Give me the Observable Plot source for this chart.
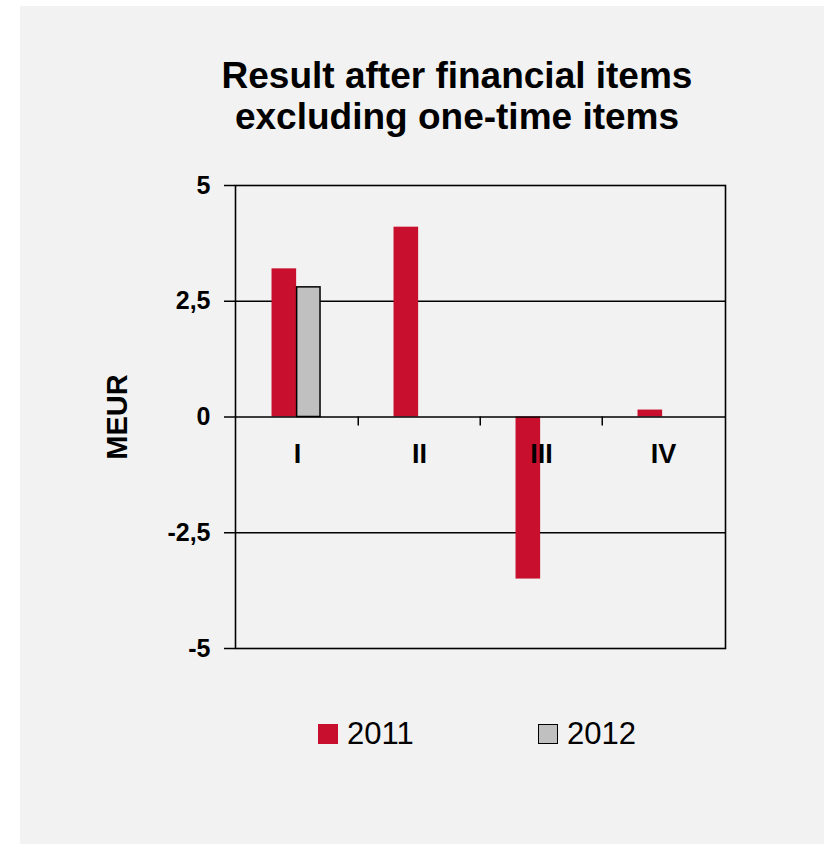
<!DOCTYPE html>
<html>
<head>
<meta charset="utf-8">
<script src="https://cdn.jsdelivr.net/npm/d3@7"></script>
<script src="https://cdn.jsdelivr.net/npm/@observablehq/plot@0.6"></script>
<style>
  html, body { margin: 0; padding: 0; background: #ffffff; }
  #panel {
    position: absolute; left: 20px; top: 6px; width: 804px; height: 838px;
    background: #f2f2f2; font-family: "Liberation Sans", Arial, sans-serif; color: #000;
  }
  #title {
    padding-top: 49px; padding-left: 70px; text-align: center;
    font-size: 37px; font-weight: bold; line-height: 41px;
  }
  #chart svg { display: block; }
  #legend {
    margin-top: 46px; height: 40px; line-height: 40px; padding-left: 298px;
    font-size: 31px; display: flex;
  }
  .item { width: 220px; display: flex; align-items: center; }
  .sw { width: 20px; height: 20px; box-sizing: border-box; margin-right: 9px; }
</style>
</head>
<body>
<div id="panel">
  <div id="title">Result after financial items<br>excluding one-time items</div>
  <div id="chart"></div>
  <div id="legend"></div>
</div>
<script>
const quarters = ["I", "II", "III", "IV"];
const values2011 = [3.2, 4.1, -3.5, 0.15];
const values2012 = [2.8, null, null, null];
const yTicks = [-5, -2.5, 0, 2.5, 5];
const seriesNames = ["2011", "2012"];
const yLabel = "MEUR";

const red = "#c8102e";
const grey = "#c0c0c0";

const d2011 = quarters.map((q, i) => ({q, v: values2011[i]})).filter(d => d.v != null);
const d2012 = quarters.map((q, i) => ({q, v: values2012[i]})).filter(d => d.v != null);

const W = 804, mL = 215, mR = 99;
const bw = (W - mL - mR) / quarters.length;
const fmt = d => String(d).replace(".", ",");

const chart = Plot.plot({
  width: W,
  height: 531,
  marginLeft: mL,
  marginRight: mR,
  marginTop: 48,
  marginBottom: 20,
  style: {background: "transparent", fontFamily: "'Liberation Sans', Arial, sans-serif", fontSize: "25px", fontWeight: "bold", color: "#000"},
  x: {domain: quarters, type: "band", paddingInner: 0, paddingOuter: 0, axis: null},
  y: {domain: [-5, 5], axis: null},
  marks: [
    Plot.ruleY(yTicks.filter(t => t !== 0 && Math.abs(t) !== 5), {stroke: "#000", strokeWidth: 1.3}),
    Plot.barY(d2011, {x: "q", y: "v", fill: red, insetLeft: bw * 0.29, insetRight: bw * 0.505}),
    Plot.barY(d2012, {x: "q", y: "v", fill: grey, stroke: "#000", strokeWidth: 1.5, insetLeft: bw * 0.495, insetRight: bw * 0.31}),
    Plot.ruleY([0], {stroke: "#000", strokeWidth: 1.6}),
    Plot.ruleX(quarters.slice(1), {x: d => d, y1: () => 0, y2: () => 0, dx: -bw / 2, insetBottom: -9, stroke: "#000", strokeWidth: 1.5}),
    Plot.text(quarters, {x: d => d, y: () => 0, dy: 37, text: d => d, fontSize: 27, fontWeight: "bold", fill: "#000"}),
    Plot.axisY({ticks: yTicks, tickSize: 11, tickPadding: 14, tickFormat: fmt, label: null, fontSize: 25, fontWeight: "bold", stroke: "#000", strokeWidth: 1.5}),
    Plot.text([yLabel], {frameAnchor: "left", dx: -118, rotate: -90, textAnchor: "middle", text: d => d, fontSize: 29, fontWeight: "bold", fill: "#000"}),
    Plot.frame({stroke: "#000", strokeWidth: 1.6})
  ]
});
document.getElementById("chart").appendChild(chart);

const legend = document.getElementById("legend");
const swatchStyles = [
  {background: red, border: "none"},
  {background: grey, border: "1.5px solid #000"}
];
seriesNames.forEach((name, i) => {
  const item = document.createElement("div");
  item.className = "item";
  const sw = document.createElement("span");
  sw.className = "sw";
  Object.assign(sw.style, swatchStyles[i]);
  const label = document.createElement("span");
  label.textContent = name;
  item.appendChild(sw);
  item.appendChild(label);
  legend.appendChild(item);
});
</script>
</body>
</html>
